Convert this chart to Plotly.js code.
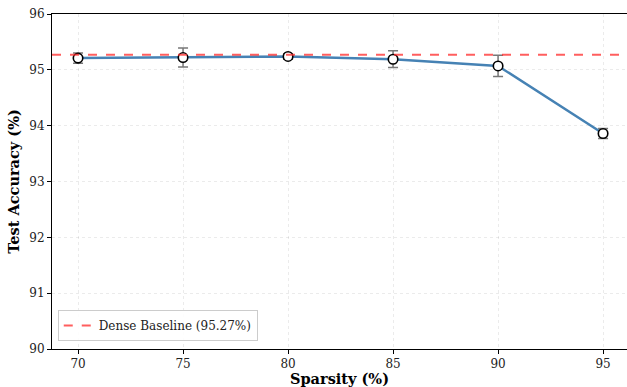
<!DOCTYPE html>
<html><head><meta charset="utf-8">
<script src="https://cdn.plot.ly/plotly-3.0.1.min.js"></script>
<style>html,body{margin:0;padding:0;background:#fff}</style>
</head><body><div id="chart" style="width:627px;height:387px"></div>
<script>
const sparsity = [70, 75, 80, 85, 90, 95];
const accuracy = [95.21, 95.22, 95.24, 95.19, 95.07, 93.86];
const accStd = [0.09, 0.17, 0.05, 0.15, 0.19, 0.09];
const baseline = 95.27;
const baselineLabel = 'Dense Baseline (95.27%)';
const yTicks = [90, 91, 92, 93, 94, 95, 96];

const font = {family: 'DejaVu Serif, serif', size: 12, color: '#222'};
const titleFont = {family: 'DejaVu Serif, serif', size: 14.5, color: '#000'};
const trace = {
  x: sparsity, y: accuracy, type: 'scatter', mode: 'lines+markers',
  line: {color: '#4682B4', width: 2.5},
  marker: {size: 9.5, color: '#fff', line: {color: '#000', width: 1.6}},
  error_y: {type: 'data', array: accStd, visible: true, color: '#777', thickness: 1.5, width: 5},
  showlegend: false
};
const layout = {
  width: 627, height: 387,
  margin: {l: 52, r: 0, t: 14, b: 38},
  paper_bgcolor: '#fff', plot_bgcolor: '#fff',
  font: font,
  xaxis: {
    range: [68.76, 96.14], tickvals: sparsity, ticks: 'outside', ticklen: 4, tickcolor: '#000',
    showline: true, linecolor: '#000', linewidth: 1, mirror: true,
    showgrid: true, gridcolor: 'rgba(0,0,0,0.08)', griddash: '3px,3px', zeroline: false,
    tickfont: font,
    title: {text: '<b>Sparsity (%)</b>', font: titleFont, standoff: 3}
  },
  yaxis: {
    range: [90, 96], tickvals: yTicks, ticks: 'outside', ticklen: 4, tickcolor: '#000',
    showline: true, linecolor: '#000', linewidth: 1,
    showgrid: true, gridcolor: 'rgba(0,0,0,0.08)', griddash: '3px,3px', zeroline: false,
    tickfont: font,
    title: {text: '<b>Test Accuracy (%)</b>', font: titleFont, standoff: 6}
  },
  shapes: [{
    type: 'line', xref: 'paper', x0: 0, x1: 1, yref: 'y', y0: baseline, y1: baseline,
    line: {color: 'rgba(255,40,40,0.75)', width: 2, dash: 'dash'},
    showlegend: true, name: baselineLabel, layer: 'above'
  }],
  legend: {
    x: 0.01, y: 0.024, xanchor: 'left', yanchor: 'bottom',
    bgcolor: 'rgba(255,255,255,0.9)', bordercolor: '#ccc', borderwidth: 1,
    font: font, itemwidth: 30, tracegroupgap: 0
  }
};
Plotly.newPlot('chart', [trace], layout, {displayModeBar: false, staticPlot: true});
</script></body></html>
